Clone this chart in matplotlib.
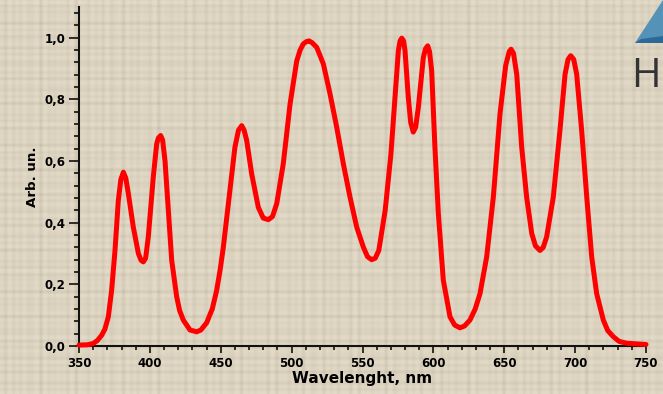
import numpy as np
import matplotlib.pyplot as plt
from matplotlib.ticker import MultipleLocator, FuncFormatter
from matplotlib.patches import Polygon

# spectrum (wavelength in nm, relative intensity)
wavelength = [350, 356, 360, 363, 366, 368.3, 370.7, 373, 375.4, 377.7, 379.5, 381.3, 383,
              384.8, 388.3, 391.9, 393.8, 395.4, 397, 398.9, 402.4, 404.8, 406, 407.6, 409,
              410.7, 413, 415.4, 418.9, 421, 423.6, 428.3, 433, 436, 440, 444, 447.1, 449.5,
              451.8, 456.5, 460, 462.5, 464.8, 466.5, 468.3, 471.8, 476.5, 480, 483.6, 486.5,
              489.5, 494.1, 498.9, 503.6, 506, 508.2, 510.5, 512.3, 514.5, 517.7, 522.4, 527.1,
              531.8, 536.5, 541.2, 545.9, 550.6, 553.5, 556.5, 559, 561.5, 566, 570, 572.9,
              575.3, 576.5, 577.7, 579, 580, 582.3, 584, 585.8, 587.5, 589.4, 592.9, 594.5,
              596, 597.3, 598.8, 601.1, 603.5, 607, 611.7, 615, 618.8, 622, 625.8, 629.5,
              632.9, 637.6, 642.3, 647, 651, 653.5, 654.8, 656.5, 658.8, 662.3, 665.8, 669.4,
              672, 675.2, 677.5, 679.9, 684.6, 689.3, 692.9, 695, 696.9, 699, 701.1, 704.6,
              708.2, 711.7, 715.2, 719.9, 723, 727, 731, 736.4, 750]
intensity = [0.003, 0.004, 0.008, 0.018, 0.035, 0.055, 0.095, 0.18, 0.31, 0.47, 0.54, 0.564,
             0.545, 0.495, 0.386, 0.30, 0.278, 0.273, 0.285, 0.354, 0.548, 0.656, 0.675, 0.683,
             0.668, 0.60, 0.44, 0.278, 0.16, 0.115, 0.084, 0.052, 0.046, 0.052, 0.075, 0.12,
             0.18, 0.245, 0.32, 0.505, 0.645, 0.70, 0.715, 0.70, 0.667, 0.559, 0.45, 0.415,
             0.41, 0.42, 0.462, 0.591, 0.785, 0.925, 0.96, 0.98, 0.988, 0.99, 0.984, 0.969,
             0.915, 0.818, 0.71, 0.591, 0.483, 0.386, 0.321, 0.29, 0.28, 0.285, 0.31, 0.44,
             0.62, 0.807, 0.958, 0.99, 0.999, 0.99, 0.958, 0.807, 0.725, 0.694, 0.71, 0.774,
             0.936, 0.965, 0.974, 0.955, 0.893, 0.645, 0.43, 0.214, 0.095, 0.068, 0.059, 0.065,
             0.084, 0.12, 0.17, 0.289, 0.483, 0.753, 0.91, 0.955, 0.963, 0.95, 0.882, 0.645,
             0.483, 0.365, 0.325, 0.31, 0.32, 0.354, 0.483, 0.70, 0.882, 0.93, 0.942, 0.93,
             0.882, 0.70, 0.483, 0.289, 0.17, 0.084, 0.05, 0.03, 0.015, 0.009, 0.005]

x_ticks = [350, 400, 450, 500, 550, 600, 650, 700, 750]
y_ticks = [0.0, 0.2, 0.4, 0.6, 0.8, 1.0]

BG = '#DCD3C0'

fig = plt.figure(figsize=(6.63, 3.94), dpi=100, facecolor=BG)

# linen-like backdrop (fixed woven pattern, just decoration)
bg_ax = fig.add_axes([0, 0, 1, 1], zorder=-5)
yy = np.arange(394)[:, None]
xx = np.arange(663)[None, :]
rows = np.sin(yy * 0.9) * np.sin(yy * 0.13 + 1.2) + 0.5 * np.sin(yy * 0.47 + 0.4)
cols = np.sin(xx * 0.8 + 0.7) * np.sin(xx * 0.11) + 0.5 * np.sin(xx * 0.53 + 2.0)
weave = 5 * rows + 5 * cols - 4 * np.abs(rows * cols)
base = np.array([220, 211, 192], dtype=float)
img = np.clip(base[None, None, :] + weave[:, :, None] * np.array([1.0, 1.0, 1.05]), 0, 255)
bg_ax.imshow(img.astype(np.uint8), aspect='auto', interpolation='bilinear')
bg_ax.axis('off')

ax = fig.add_axes([79/663, 48/394, 567/663, 339/394])
ax.set_facecolor('none')

ax.plot(wavelength, intensity, color='#FF0000', lw=3.6, solid_joinstyle='round',
        solid_capstyle='round', clip_on=False, zorder=3)

ax.set_xlim(350, 750)
ax.set_ylim(0, 1.1)
ax.set_xticks(x_ticks)
ax.set_yticks(y_ticks)
ax.xaxis.set_minor_locator(MultipleLocator(10))
ax.yaxis.set_minor_locator(MultipleLocator(0.04))
ax.yaxis.set_major_formatter(FuncFormatter(lambda v, p: f"{v:.1f}".replace('.', ',')))

for s in ['top', 'right']:
    ax.spines[s].set_visible(False)
for s in ['left', 'bottom']:
    ax.spines[s].set_linewidth(1.5)
    ax.spines[s].set_color('#111111')

ax.tick_params(axis='y', which='major', length=7, width=1.1, pad=3, labelsize=8.5)
ax.tick_params(axis='y', which='minor', length=3.6, width=1.1)
ax.tick_params(axis='x', which='major', length=5, width=1.1, pad=3, labelsize=8.5)
ax.tick_params(axis='x', which='minor', length=3, width=1.1)
for lab in ax.get_xticklabels() + ax.get_yticklabels():
    lab.set_fontweight('bold')
    lab.set_family('DejaVu Sans')

ax.set_xlabel('Wavelenght, nm', fontsize=11, fontweight='bold', labelpad=1)
ax.set_ylabel('Arb. un.', fontsize=9.6, fontweight='bold', labelpad=4)

# logo fragment in the top right corner
def fxy(px, py):
    return (px / 663, 1 - py / 394)

tri = Polygon([fxy(635, 43), fxy(663, 43), fxy(663, 0)], closed=True,
              transform=fig.transFigure, facecolor='#5592B8', edgecolor='none')
band = Polygon([fxy(635, 43), fxy(663, 43), fxy(663, 36), fxy(641, 39)], closed=True,
               transform=fig.transFigure, facecolor='#2B6A96', edgecolor='none')
fig.patches.extend([tri, band])
fig.text(631/663, 1 - 87/394, 'H', fontsize=29, color='#333333', family='Open Sans',
         ha='left', va='baseline')

fig.savefig('out.png', dpi=100, facecolor=BG)
